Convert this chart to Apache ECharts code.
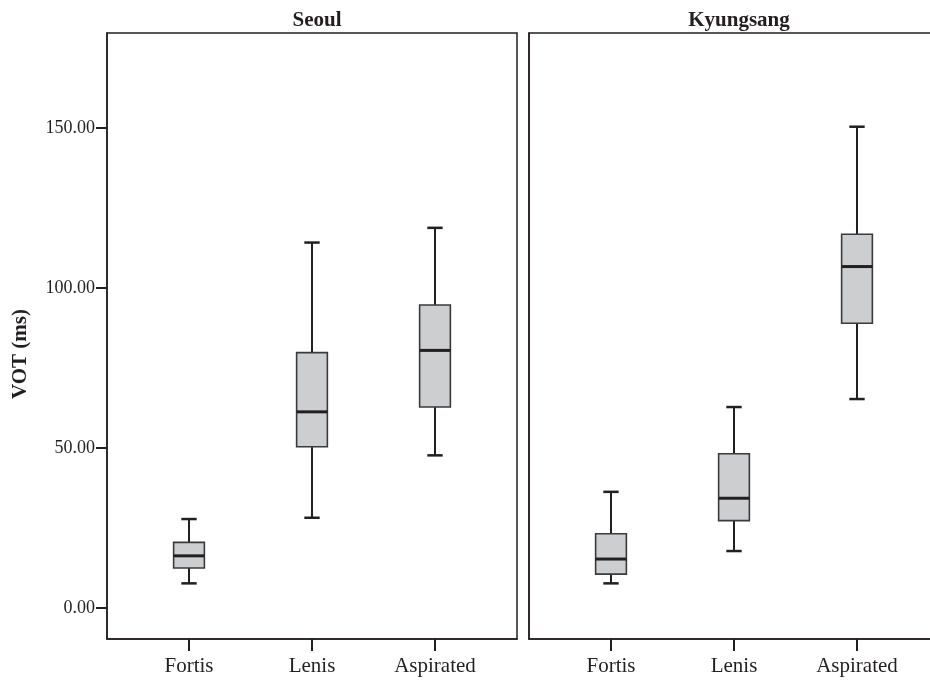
<!DOCTYPE html>
<html>
<head>
<meta charset="utf-8">
<script src="https://cdn.jsdelivr.net/npm/echarts@6/dist/echarts.min.js"></script>
<style>
html,body{margin:0;padding:0;background:#fff;overflow:hidden;width:930px;height:681px;}
#chart{width:945px;height:681px;}
</style>
</head>
<body>
<div id="chart"></div>
<script>
var panels = ['Seoul', 'Kyungsang'];
var categories = ['Fortis', 'Lenis', 'Aspirated'];
var yTicks = [0, 50, 100, 150];

var seoulMin    = [7.7, 28.2, 47.7];
var seoulQ1     = [12.5, 50.4, 62.8];
var seoulMedian = [16.3, 61.3, 80.5];
var seoulQ3     = [20.5, 79.8, 94.7];
var seoulMax    = [27.8, 114.2, 118.8];

var kyungsangMin    = [7.7, 17.8, 65.3];
var kyungsangQ1     = [10.6, 27.3, 89.0];
var kyungsangMedian = [15.3, 34.3, 106.7];
var kyungsangQ3     = [23.2, 48.2, 116.8];
var kyungsangMax    = [36.3, 62.8, 150.4];

function buildRows(mn, q1, md, q3, mx) {
  return categories.map(function (c, i) { return [i, mn[i], q1[i], md[i], q3[i], mx[i]]; });
}
var seoulRows = buildRows(seoulMin, seoulQ1, seoulMedian, seoulQ3, seoulMax);
var kyungsangRows = buildRows(kyungsangMin, kyungsangQ1, kyungsangMedian, kyungsangQ3, kyungsangMax);

var FONT = '"Liberation Serif", "Times New Roman", serif';
var INK = '#231f20';

function renderBox(params, api) {
  var x = api.value(0);
  var pMin = api.coord([x, api.value(1)]);
  var pQ1 = api.coord([x, api.value(2)]);
  var pMd = api.coord([x, api.value(3)]);
  var pQ3 = api.coord([x, api.value(4)]);
  var pMax = api.coord([x, api.value(5)]);
  var unit = api.size([1, 0])[0];
  var bw = unit * 0.25;
  var cw = unit * 0.125;
  var cx = pMd[0];
  return {
    type: 'group',
    children: [
      { type: 'line', shape: { x1: cx, y1: pMax[1], x2: cx, y2: pQ3[1] }, style: { stroke: INK, lineWidth: 2 } },
      { type: 'line', shape: { x1: cx, y1: pQ1[1], x2: cx, y2: pMin[1] }, style: { stroke: INK, lineWidth: 2 } },
      { type: 'line', shape: { x1: cx - cw / 2, y1: pMax[1], x2: cx + cw / 2, y2: pMax[1] }, style: { stroke: INK, lineWidth: 2.5 } },
      { type: 'line', shape: { x1: cx - cw / 2, y1: pMin[1], x2: cx + cw / 2, y2: pMin[1] }, style: { stroke: INK, lineWidth: 2.5 } },
      { type: 'rect', shape: { x: cx - bw / 2, y: pQ3[1], width: bw, height: pQ1[1] - pQ3[1] }, style: { fill: '#cdced0', stroke: '#3a3a3a', lineWidth: 1.6 } },
      { type: 'line', shape: { x1: cx - bw / 2, y1: pMd[1], x2: cx + bw / 2, y2: pMd[1] }, style: { stroke: INK, lineWidth: 3 } }
    ]
  };
}

function xAxisFor(gi) {
  return {
    type: 'value', gridIndex: gi, min: -2 / 3, max: 8 / 3, position: 'bottom',
    axisLine: { show: true, onZero: false, lineStyle: { color: INK, width: 1.5 } },
    splitLine: { show: false },
    axisTick: { show: true, inside: false, length: 12, customValues: [0, 1, 2], lineStyle: { color: INK, width: 2 } },
    axisLabel: { show: true, customValues: [0, 1, 2], margin: 17, color: INK, fontFamily: FONT, fontSize: 21,
      formatter: function (v) { return categories[Math.round(v)]; } }
  };
}
function yAxisFor(gi, showLabels) {
  return {
    type: 'value', gridIndex: gi, min: -9.6875, max: 179.6875, position: 'left',
    axisLine: { show: true, onZero: false, lineStyle: { color: INK, width: 1.5 } },
    splitLine: { show: false },
    axisTick: { show: showLabels, inside: false, length: 11, customValues: yTicks, lineStyle: { color: INK, width: 2 } },
    axisLabel: { show: showLabels, customValues: yTicks, margin: 12, color: INK, fontFamily: FONT, fontSize: 18,
      formatter: function (v) { return v.toFixed(2); } },
    name: showLabels ? 'VOT (ms)' : '',
    nameLocation: 'middle',
    nameGap: 76,
    nameTextStyle: { color: INK, fontFamily: FONT, fontSize: 21, fontWeight: 'bold', padding: [0, 36, 0, 0] }
  };
}

var option = {
  backgroundColor: '#fff',
  animation: false,
  title: [
    { text: panels[0], left: 312, top: 5, textAlign: 'center', textStyle: { color: INK, fontFamily: FONT, fontSize: 21, fontWeight: 'bold' } },
    { text: panels[1], left: 734, top: 5, textAlign: 'center', textStyle: { color: INK, fontFamily: FONT, fontSize: 21, fontWeight: 'bold' } }
  ],
  grid: [
    { left: 107, top: 33, width: 410, height: 606, show: true, borderColor: INK, borderWidth: 1.5, backgroundColor: 'transparent' },
    { left: 529, top: 33, width: 410, height: 606, show: true, borderColor: INK, borderWidth: 1.5, backgroundColor: 'transparent' }
  ],
  xAxis: [xAxisFor(0), xAxisFor(1)],
  yAxis: [yAxisFor(0, true), yAxisFor(1, false)],
  series: [
    { type: 'custom', name: panels[0], xAxisIndex: 0, yAxisIndex: 0, data: seoulRows, renderItem: renderBox, encode: { x: 0, y: [1, 2, 3, 4, 5] } },
    { type: 'custom', name: panels[1], xAxisIndex: 1, yAxisIndex: 1, data: kyungsangRows, renderItem: renderBox, encode: { x: 0, y: [1, 2, 3, 4, 5] } }
  ]
};

var chart = echarts.init(document.getElementById('chart'), null, { renderer: 'canvas' });
chart.setOption(option);
</script>
</body>
</html>
